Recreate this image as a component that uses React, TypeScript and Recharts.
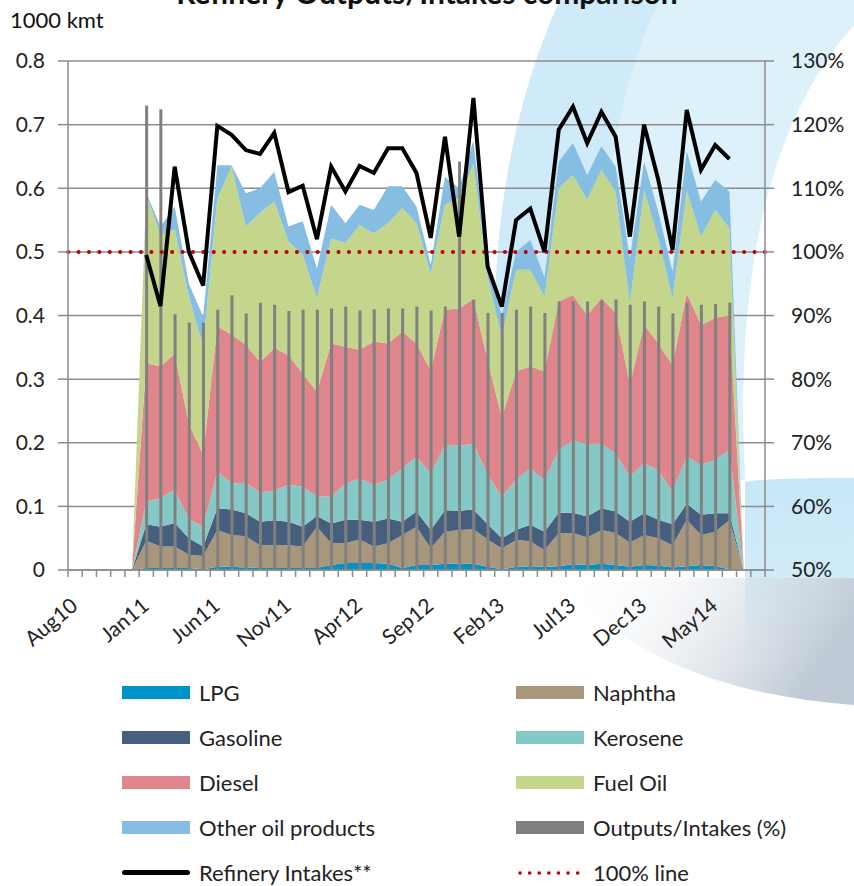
import React from "react";
import {
  Area,
  Bar,
  CartesianGrid,
  ComposedChart,
  Line,
  ReferenceLine,
  XAxis,
  YAxis
} from "recharts";

// monthly categories, Aug10 .. Aug14
const months = [
  "Aug10", "Sep10", "Oct10", "Nov10", "Dec10",
  "Jan11", "Feb11", "Mar11", "Apr11", "May11", "Jun11", "Jul11", "Aug11", "Sep11", "Oct11", "Nov11", "Dec11",
  "Jan12", "Feb12", "Mar12", "Apr12", "May12", "Jun12", "Jul12", "Aug12", "Sep12", "Oct12", "Nov12", "Dec12",
  "Jan13", "Feb13", "Mar13", "Apr13", "May13", "Jun13", "Jul13", "Aug13", "Sep13", "Oct13", "Nov13", "Dec13",
  "Jan14", "Feb14", "Mar14", "Apr14", "May14", "Jun14", "Jul14", "Aug14"
];

// Jan11 .. Jun14 values, 1000 kmt
const lpg = [.003, .003, .003, .003, .001, .005, .005, .004, .003, .003, .003, .003, .003, .008, .011, .011, .011, .010, .003, .008, .008, .010, .010, .010, .005, .001, .005, .006, .005, .006, .009, .008, .010, .008, .005, .008, .007, .004, .006, .008, .006, .001];
const naphtha = [.043, .034, .034, .021, .021, .058, .050, .049, .036, .036, .036, .034, .065, .034, .031, .037, .026, .032, .052, .060, .026, .050, .053, .054, .043, .033, .042, .039, .026, .052, .049, .043, .053, .050, .038, .047, .043, .035, .073, .047, .054, .077];
const gasoline = [.026, .031, .037, .026, .015, .034, .040, .036, .037, .039, .037, .031, .017, .031, .037, .031, .039, .039, .021, .024, .029, .034, .030, .031, .024, .016, .016, .026, .029, .032, .032, .033, .034, .034, .033, .034, .029, .033, .025, .032, .029, .011];
const kerosene = [.035, .045, .052, .030, .031, .058, .041, .048, .046, .047, .058, .063, .031, .042, .057, .065, .058, .061, .084, .086, .089, .103, .102, .104, .078, .065, .079, .089, .082, .099, .114, .114, .102, .091, .071, .079, .078, .051, .075, .078, .084, .100];
const diesel = [.218, .207, .214, .150, .113, .228, .234, .217, .205, .224, .204, .178, .164, .241, .215, .202, .225, .214, .215, .178, .162, .212, .216, .227, .180, .124, .170, .160, .170, .233, .228, .202, .228, .221, .144, .217, .199, .199, .256, .220, .223, .211];
const fuelOil = [.265, .207, .195, .200, .170, .200, .264, .186, .234, .230, .178, .186, .147, .165, .163, .196, .170, .189, .194, .189, .151, .165, .174, .212, .130, .128, .160, .152, .118, .178, .189, .182, .202, .191, .128, .212, .165, .105, .162, .139, .170, .137];
const otherProducts = [.003, .013, .036, .020, .047, .053, .002, .052, .039, .047, .024, .053, .047, .053, .031, .032, .037, .058, .034, .026, .015, .044, .015, .037, .020, .033, .028, .047, .030, .042, .050, .039, .037, .039, .071, .045, .042, .042, .061, .055, .047, .058];
const intakes = [.495, .415, .634, .500, .447, .698, .684, .660, .654, .687, .594, .604, .520, .634, .595, .635, .624, .663, .663, .624, .522, .681, .524, .742, .477, .414, .550, .568, .500, .692, .728, .671, .720, .681, .524, .700, .613, .503, .723, .629, .668, .646];
// Outputs/Intakes, %
const outputRatio = [123, 122.4, 90.2, 88.9, 88.9, 90.9, 93.2, 90.3, 92, 91.7, 90.7, 90.9, 90.9, 91.1, 91.4, 90.8, 91, 91.1, 91.1, 91.4, 90.8, 91.4, 114.2, 92.5, 90.4, 90.4, 90.9, 91.4, 90.4, 92.2, 92.2, 92.2, 92.4, 92.5, 91.7, 92.2, 91.4, 90.3, 92, 91.7, 91.8, 92];

const leftTicks = [0, 0.1, 0.2, 0.3, 0.4, 0.5, 0.6, 0.7, 0.8];
const rightTicks = [50, 60, 70, 80, 90, 100, 110, 120, 130];

const LEAD = 5; // Aug10..Dec10 empty
const TAIL = 2; // Jul14, Aug14 empty
const pad = (arr: number[], fill: number | null) => [
  ...Array(LEAD).fill(fill),
  ...arr,
  ...Array(TAIL).fill(fill)
];

const data = months.map((month, i) => ({
  month,
  lpg: pad(lpg, 0)[i],
  naphtha: pad(naphtha, 0)[i],
  gasoline: pad(gasoline, 0)[i],
  kerosene: pad(kerosene, 0)[i],
  diesel: pad(diesel, 0)[i],
  fuelOil: pad(fuelOil, 0)[i],
  other: pad(otherProducts, 0)[i],
  intakes: pad(intakes, null)[i],
  ratio: pad(outputRatio, null)[i]
}));

const areaSeries = [
  { key: "lpg", name: "LPG", color: "#0093C9" },
  { key: "naphtha", name: "Naphtha", color: "#A8977A" },
  { key: "gasoline", name: "Gasoline", color: "#465F7F" },
  { key: "kerosene", name: "Kerosene", color: "#85C9C6" },
  { key: "diesel", name: "Diesel", color: "#E0858B" },
  { key: "fuelOil", name: "Fuel Oil", color: "#C3D68C" },
  { key: "other", name: "Other oil products", color: "#86BEE3" }
];

const legendItems = [
  { name: "LPG", color: "#0093C9", kind: "box" },
  { name: "Naphtha", color: "#A8977A", kind: "box" },
  { name: "Gasoline", color: "#465F7F", kind: "box" },
  { name: "Kerosene", color: "#85C9C6", kind: "box" },
  { name: "Diesel", color: "#E0858B", kind: "box" },
  { name: "Fuel Oil", color: "#C3D68C", kind: "box" },
  { name: "Other oil products", color: "#86BEE3", kind: "box" },
  { name: "Outputs/Intakes (%)", color: "#808080", kind: "box" },
  { name: "Refinery Intakes**", color: "#000000", kind: "line" },
  { name: "100% line", color: "#C00000", kind: "dots" }
];

const FONT = "Lato, 'Open Sans', sans-serif";
const GRID = "#8C8C8C";
const PLOT_W = 697;
const BAND = PLOT_W / months.length;

const MonthTick = (props: any) => {
  const { x, y, payload, index } = props;
  const left = x - BAND / 2;
  const tx = x + 4;
  const ty = y + 31;
  return (
    <g>
      <line x1={left} x2={left} y1={y - 7} y2={y} stroke={GRID} strokeWidth={1.5} />
      {index === months.length - 1 && (
        <line x1={x + BAND / 2} x2={x + BAND / 2} y1={y - 7} y2={y} stroke={GRID} strokeWidth={1.5} />
      )}
      {index % 5 === 0 && (
        <text
          x={tx}
          y={ty}
          textAnchor="end"
          transform={`rotate(-40, ${tx}, ${ty})`}
          fontSize={21}
          fontFamily={FONT}
          fill="#222"
        >
          {payload.value}
        </text>
      )}
    </g>
  );
};

function LegendMark({ kind, color }: { kind: string; color: string }) {
  if (kind === "line") {
    return <div style={{ width: 68, height: 5, background: color, borderRadius: 3 }} />;
  }
  if (kind === "dots") {
    return (
      <svg width={68} height={8}>
        <line x1={4} x2={66} y1={4} y2={4} stroke={color} strokeWidth={3.5} strokeLinecap="round" strokeDasharray="0.1 9.5" />
      </svg>
    );
  }
  return <div style={{ width: 68, height: 13, background: color }} />;
}

function Background() {
  return (
    <svg width={854} height={886} style={{ position: "absolute", left: 0, top: 0 }}>
      <defs>
        <linearGradient id="greyFade" x1="0" y1="0" x2="1" y2="0.3">
          <stop offset="0" stopColor="#ffffff" stopOpacity={0} />
          <stop offset="1" stopColor="#bfcad6" stopOpacity={1} />
        </linearGradient>
        <linearGradient id="blueFade" x1="0" y1="0" x2="0" y2="1">
          <stop offset="0" stopColor="#C7E7F7" stopOpacity={1} />
          <stop offset="0.6" stopColor="#C7E7F7" stopOpacity={0.8} />
          <stop offset="1" stopColor="#C7E7F7" stopOpacity={0} />
        </linearGradient>
      </defs>
      <path d="M 560 0 C 500 130 480 300 505 480 L 745 480 C 735 300 760 130 854 25 L 854 0 Z" fill="#CFEAF8" />
      <path d="M 660 0 C 600 120 590 300 620 480 L 745 480 C 735 300 760 130 854 25 L 854 0 Z" fill="#DDF1FA" />
      <path d="M 745 482 Q 760 478 854 478 L 854 660 L 745 660 Z" fill="url(#blueFade)" />
      <path d="M 560 578 Q 650 690 854 705 L 854 578 Z" fill="url(#greyFade)" />
    </svg>
  );
}

export default function App() {
  return (
    <div style={{ position: "relative", width: 854, height: 886, overflow: "hidden", background: "#fff", fontFamily: FONT }}>
      <style>{`body{margin:0}`}</style>
      <Background />
      <div
        style={{
          position: "absolute",
          left: 0,
          width: 854,
          top: -24,
          textAlign: "center",
          fontSize: 30,
          fontWeight: 700,
          lineHeight: "32px",
          color: "#111"
        }}
      >
        Refinery Outputs/Intakes comparison
      </div>
      <div style={{ position: "absolute", left: 10, top: 6, fontSize: 22, color: "#111" }}>1000 kmt</div>
      <div style={{ position: "absolute", left: 0, top: 0 }}>
        <ComposedChart
          width={854}
          height={660}
          data={data}
          margin={{ top: 61, right: 0, bottom: 10, left: 0 }}
          barGap={0}
        >
          <CartesianGrid vertical={false} stroke={GRID} strokeWidth={1.5} yAxisId="left" />
          <XAxis
            dataKey="month"
            interval={0}
            tickLine={false}
            tickSize={7}
            tickMargin={0}
            height={80}
            axisLine={{ stroke: GRID, strokeWidth: 1.5 }}
            tick={<MonthTick />}
          />
          <YAxis
            yAxisId="left"
            domain={[0, 0.8]}
            ticks={leftTicks}
            width={68}
            tickSize={10}
            tickMargin={13}
            tickFormatter={(v) => (v === 0 ? "0" : String(v))}
            axisLine={{ stroke: GRID, strokeWidth: 1.5 }}
            tickLine={{ stroke: GRID, strokeWidth: 1.5 }}
            tick={{ fontSize: 21, fill: "#222", fontFamily: FONT }}
          />
          <YAxis
            yAxisId="right"
            orientation="right"
            domain={[50, 130]}
            ticks={rightTicks}
            width={89}
            tickSize={9}
            tickMargin={17}
            tickFormatter={(v) => `${v}%`}
            axisLine={{ stroke: GRID, strokeWidth: 1.5 }}
            tickLine={{ stroke: GRID, strokeWidth: 1.5 }}
            tick={{ fontSize: 21, fill: "#222", fontFamily: FONT, textAnchor: "start" }}
          />
          {areaSeries.map((s) => (
            <Area
              key={s.key}
              yAxisId="left"
              type="linear"
              dataKey={s.key}
              name={s.name}
              stackId="out"
              stroke="none"
              fill={s.color}
              fillOpacity={1}
              isAnimationActive={false}
            />
          ))}
          <Bar
            yAxisId="right"
            dataKey="ratio"
            name="Outputs/Intakes (%)"
            fill="#808080"
            barSize={3}
            isAnimationActive={false}
          />
          <ReferenceLine
            yAxisId="right"
            y={100}
            stroke="#C00000"
            strokeWidth={4}
            strokeLinecap="round"
            strokeDasharray="0.1 10.3"
          />
          <Line
            yAxisId="left"
            type="linear"
            dataKey="intakes"
            name="Refinery Intakes**"
            stroke="#000"
            strokeWidth={4}
            dot={false}
            connectNulls={false}
            isAnimationActive={false}
          />
        </ComposedChart>
      </div>
      <div style={{ position: "absolute", left: 122, top: 670 }}>
        {[0, 1, 2, 3, 4].map((row) => (
          <div key={row} style={{ display: "flex", height: 45, alignItems: "center" }}>
            {[0, 1].map((col) => {
              const item = legendItems[row * 2 + col];
              return (
                <div key={col} style={{ display: "flex", alignItems: "center", width: 394 }}>
                  <LegendMark kind={item.kind} color={item.color} />
                  <span style={{ marginLeft: 9, fontSize: 22, lineHeight: "24px", color: "#222" }}>{item.name}</span>
                </div>
              );
            })}
          </div>
        ))}
      </div>
    </div>
  );
}
